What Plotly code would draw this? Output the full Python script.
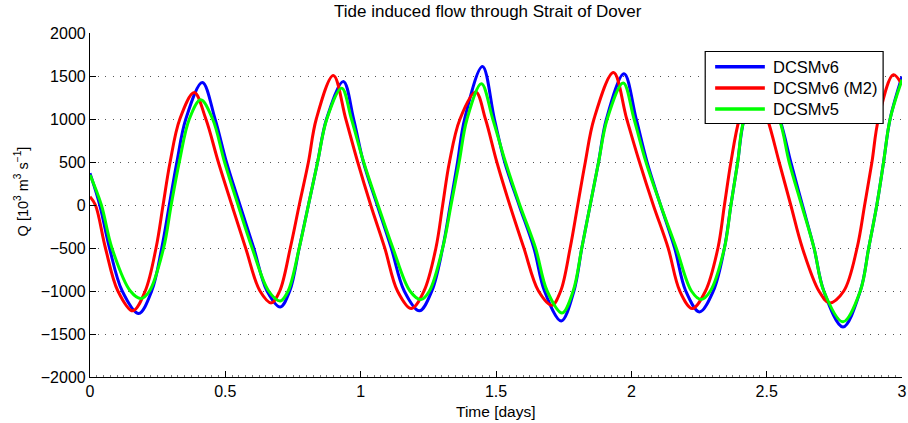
import plotly.graph_objects as go

# Volume flux through the Strait of Dover [10^3 m^3/s] vs time [days]
t_v6 = [0, 0.036, 0.072, 0.119, 0.180, 0.228, 0.265, 0.293, 0.321, 0.354, 0.415,
        0.462, 0.504, 0.554, 0.605, 0.654, 0.703, 0.738, 0.773, 0.807, 0.841,
        0.874, 0.936, 0.974, 1.010, 1.061, 1.113, 1.161, 1.217, 1.263, 1.303,
        1.331, 1.358, 1.384, 1.450, 1.494, 1.532, 1.585, 1.640, 1.679, 1.741,
        1.788, 1.817, 1.848, 1.879, 1.908, 1.973, 2.018, 2.058, 2.108, 2.160,
        2.201, 2.252, 2.303, 2.344, 2.368, 2.393, 2.417, 2.480, 2.548, 2.589,
        2.632, 2.675, 2.711, 2.782, 2.846, 2.877, 2.907, 2.932, 2.956, 3.0]
q_v6 = [369, 0, -500, -1000, -1262, -1000, -500, 0, 500, 1000, 1425,
        1000, 500, 0, -500, -1000, -1185, -1000, -500, 0, 500,
        1000, 1437, 1000, 500, 0, -500, -1000, -1231, -1000, -500,
        0, 500, 1000, 1611, 1000, 500, 0, -500, -1000, -1348,
        -1000, -500, 0, 500, 1000, 1526, 1000, 500, 0, -500,
        -1000, -1243, -1000, -500, 0, 500, 1000, 1480, 1000, 500,
        0, -500, -1000, -1418, -1000, -500, 0, 500, 1000, 1495]

t_m2 = [0, 0.020, 0.057, 0.103, 0.158, 0.204, 0.244, 0.270, 0.296, 0.332, 0.385,
        0.428, 0.474, 0.524, 0.575, 0.628, 0.670, 0.701, 0.740, 0.773, 0.807,
        0.836, 0.899, 0.945, 0.989, 1.037, 1.089, 1.136, 1.187, 1.234, 1.278,
        1.303, 1.328, 1.367, 1.425, 1.461, 1.503, 1.551, 1.603, 1.657, 1.707,
        1.739, 1.774, 1.802, 1.830, 1.862, 1.934, 1.983, 2.030, 2.081, 2.136,
        2.179, 2.225, 2.274, 2.320, 2.344, 2.368, 2.399, 2.450, 2.503, 2.546,
        2.589, 2.632, 2.693, 2.732, 2.785, 2.834, 2.862, 2.889, 2.913, 2.968,
        3.0]
q_m2 = [97, 0, -500, -1000, -1231, -1000, -500, 0, 500, 1000, 1308,
        1000, 500, 0, -500, -1000, -1138, -1000, -500, 0, 500,
        1000, 1507, 1000, 500, 0, -500, -1000, -1204, -1000, -500,
        0, 500, 1000, 1313, 1000, 500, 0, -500, -1000, -1165,
        -1000, -500, 0, 500, 1000, 1541, 1000, 500, 0, -500,
        -1000, -1204, -1000, -500, 0, 500, 1000, 1430, 1000, 500,
        0, -500, -1000, -1138, -1000, -500, 0, 500, 1000, 1515,
        1398]

t_v5 = [0, 0.042, 0.081, 0.149, 0.189, 0.220, 0.272, 0.300, 0.330, 0.367, 0.409,
        0.453, 0.497, 0.547, 0.599, 0.660, 0.703, 0.732, 0.773, 0.807, 0.841,
        0.875, 0.930, 0.966, 1.011, 1.064, 1.119, 1.182, 1.223, 1.254, 1.303,
        1.334, 1.364, 1.393, 1.446, 1.488, 1.535, 1.588, 1.646, 1.689, 1.744,
        1.785, 1.817, 1.848, 1.879, 1.911, 1.970, 2.010, 2.054, 2.108, 2.166,
        2.222, 2.258, 2.292, 2.344, 2.368, 2.393, 2.417, 2.480, 2.546, 2.583,
        2.629, 2.675, 2.711, 2.782, 2.846, 2.877, 2.907, 2.932, 2.956, 3.0]
q_v5 = [350, 0, -500, -1000, -1087, -1000, -500, 0, 500, 1000, 1223,
        1000, 500, 0, -500, -1000, -1115, -1000, -500, 0, 500,
        1000, 1359, 1000, 500, 0, -500, -1000, -1099, -1000, -500,
        0, 500, 1000, 1410, 1000, 500, 0, -500, -1000, -1255,
        -1000, -500, 0, 500, 1000, 1418, 1000, 500, 0, -500,
        -1000, -1099, -1000, -500, 0, 500, 1000, 1380, 1000, 500,
        0, -500, -1000, -1359, -1000, -500, 0, 500, 1000, 1456]

x_ticks = [0, 0.5, 1, 1.5, 2, 2.5, 3]
x_ticklabels = ["0", "0.5", "1", "1.5", "2", "2.5", "3"]
y_ticks = [-2000, -1500, -1000, -500, 0, 500, 1000, 1500, 2000]
y_ticklabels = ["\u22122000", "\u22121500", "\u22121000", "\u2212500", "0",
                "500", "1000", "1500", "2000"]

FONT = "Liberation Sans, Arial, Helvetica, sans-serif"

series = [
    ("DCSMv6", t_v6, q_v6, "#0000FF"),
    ("DCSMv6 (M2)", t_m2, q_m2, "#FF0000"),
    ("DCSMv5", t_v5, q_v5, "#00FF00"),
]

# figure geometry in pixels (used to place the legend box and labels)
W, H = 908, 423
ML, MR, MT, MB = 90, 1, 33, 46
PW, PH = W - ML - MR, H - MT - MB


def px_x(px):
    return (px - ML) / PW


def px_y(py):
    return (H - MB - py) / PH


fig = go.Figure()
for name, t, q, color in series:
    fig.add_trace(go.Scatter(
        x=t, y=q, name=name, mode="lines", showlegend=False,
        line=dict(color=color, width=3, shape="spline", smoothing=1.0),
    ))

shapes = []
annotations = []

# legend box drawn in the upper right corner of the axes
shapes.append(dict(type="rect", xref="paper", yref="paper",
                   x0=px_x(709), x1=px_x(888), y0=px_y(123.5), y1=px_y(51.5),
                   line=dict(color="black", width=1.2), fillcolor="white",
                   layer="above"))
for i, (name, _, _, color) in enumerate(series):
    ypix = 66.7 + 21.2 * i
    shapes.append(dict(type="line", xref="paper", yref="paper",
                       x0=px_x(719), x1=px_x(769), y0=px_y(ypix), y1=px_y(ypix),
                       line=dict(color=color, width=3.5), layer="above"))
    annotations.append(dict(text=name, xref="paper", yref="paper",
                            x=px_x(775), y=px_y(ypix), xanchor="left",
                            yanchor="middle", showarrow=False,
                            font=dict(size=16.5, color="black")))

# titles
annotations.append(dict(text="Tide induced flow through Strait of Dover",
                        xref="paper", yref="paper", x=px_x(490), y=px_y(12),
                        xanchor="center", yanchor="middle", showarrow=False,
                        font=dict(size=17)))
annotations.append(dict(text="Time [days]", xref="paper", yref="paper",
                        x=px_x(499), y=px_y(411), xanchor="center",
                        yanchor="middle", showarrow=False,
                        font=dict(size=15.5)))
annotations.append(dict(text="Q [10<sup>3</sup> m<sup>3</sup> s<sup>\u22121</sup>]",
                        xref="paper", yref="paper", x=px_x(21), y=px_y(191),
                        xanchor="center", yanchor="middle", textangle=-90,
                        showarrow=False, font=dict(size=14.5)))

fig.update_layout(
    width=W, height=H,
    margin=dict(l=ML, r=MR, t=MT, b=MB),
    paper_bgcolor="white", plot_bgcolor="white",
    font=dict(family=FONT, size=16, color="black"),
    showlegend=False,
    shapes=shapes,
    annotations=annotations,
)

fig.update_xaxes(
    range=[0, 3], tickvals=x_ticks, ticktext=x_ticklabels,
    showline=True, linecolor="black", linewidth=1.2,
    ticks="inside", ticklen=6, tickcolor="black",
    ticklabeloverflow="allow",
    minor=dict(ticks="inside", ticklen=2, tickcolor="#777777", dtick=0.025),
    showgrid=False, zeroline=False,
    tickfont=dict(size=16),
)
fig.update_yaxes(
    range=[-2000, 2000], tickvals=y_ticks, ticktext=y_ticklabels,
    showline=True, linecolor="black", linewidth=1.2,
    ticks="inside", ticklen=6, tickcolor="black",
    showgrid=True, gridcolor="#555555", gridwidth=1, griddash="1px,6.5px",
    zeroline=False,
    tickfont=dict(size=16),
)

fig.write_html("out.html")
